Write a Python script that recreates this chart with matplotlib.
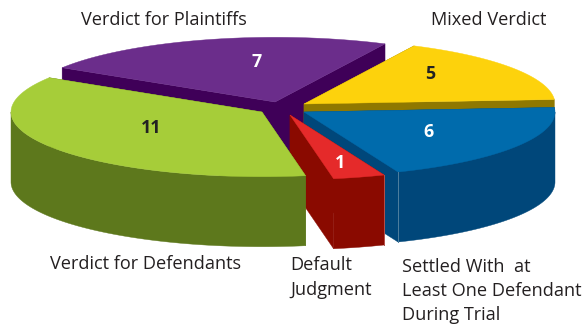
import numpy as np
import matplotlib
matplotlib.use("Agg")
import matplotlib.pyplot as plt
from matplotlib.patches import Polygon

# listed counter-clockwise from the start angle
categories = ["Settled With  at\nLeast One Defendant\nDuring Trial", "Mixed Verdict",
              "Verdict for Plaintiffs", "Verdict for Defendants", "Default\nJudgment"]
values = [6, 5, 7, 11, 1]
top_colors = ["#006BAC", "#FDD20C", "#6B2D8B", "#A6CD39", "#E52A2A"]
wall_colors = ["#00477A", "#8F7800", "#3F0058", "#5D781C", "#8A0A00"]
ridge_colors = ["#4F7F9F", None, None, None, "#B5504A"]
apex_x = [304, 304, 275, 262, 290]
apex_y = [112, 104, 102, 112, 115]
value_colors = ["white", "#222222", "white", "#222222", "white"]
value_pos = [(429, 132), (430, 74), (257, 62), (151, 128), (340, 163)]
label_pos = [(402, 291), (431, 20), (81, 20), (50, 264), (290, 277.5)]
draw_order = [2, 1, 0, 4, 3]

START = 292
RX, RY, DEPTH = 251, 64.7, 70

W, H = 582, 331
fig = plt.figure(figsize=(W / 100, H / 100), dpi=100)
ax = fig.add_axes([0, 0, 1, 1])
ax.set_xlim(0, W)
ax.set_ylim(H, 0)
ax.axis("off")
plt.rcParams["font.family"] = ["Open Sans", "DejaVu Sans"]

total = sum(values)
spans = {}
cur = START
for i, v in enumerate(values):
    spans[i] = (cur, cur + v / total * 360)
    cur += v / total * 360


def rim(cx, cy, a0, a1):
    t = np.radians(np.linspace(a0, a1, 120))
    # screen y grows downward: angles in 180..360 are the front of the pie
    return cx + RX * np.cos(t), cy - RY * np.sin(t)


for i in draw_order:
    a0, a1 = spans[i]
    cx, cy = apex_x[i], apex_y[i]
    xs, ys = rim(cx, cy, a0, a1)
    for x_e, y_e in ((xs[0], ys[0]), (xs[-1], ys[-1])):
        ax.add_patch(Polygon([(cx, cy), (x_e, y_e), (x_e, y_e + DEPTH), (cx, cy + DEPTH)],
                             closed=True, fc=wall_colors[i], ec=wall_colors[i], lw=0.3))
    # front-facing part of the outer wall
    for k in (0, 1):
        lo, hi = max(a0, 180 + 360 * k), min(a1, 360 + 360 * k)
        if hi > lo:
            fx, fy = rim(cx, cy, lo, hi)
            ax.add_patch(Polygon(np.r_[np.c_[fx, fy], np.c_[fx[::-1], fy[::-1] + DEPTH]],
                                 closed=True, fc=wall_colors[i], ec=wall_colors[i], lw=0.3))
    ax.add_patch(Polygon(np.r_[[(cx, cy)], np.c_[xs, ys]], closed=True,
                         fc=top_colors[i], ec=top_colors[i], lw=0.3))
    if ridge_colors[i]:
        edge = 0 if i == 0 else -1
        ax.plot([xs[edge], xs[edge]], [ys[edge], ys[edge] + DEPTH], color=ridge_colors[i], lw=0.7)

for i in range(len(values)):
    ax.text(*value_pos[i], str(values[i]), color=value_colors[i], fontsize=12.8,
            fontweight="bold", ha="center", va="center")
    ax.text(*label_pos[i], categories[i], color="#231F20", fontsize=13.1,
            ha="left", va="center", linespacing=1.45)

fig.savefig("out.png", dpi=100, facecolor="white")
